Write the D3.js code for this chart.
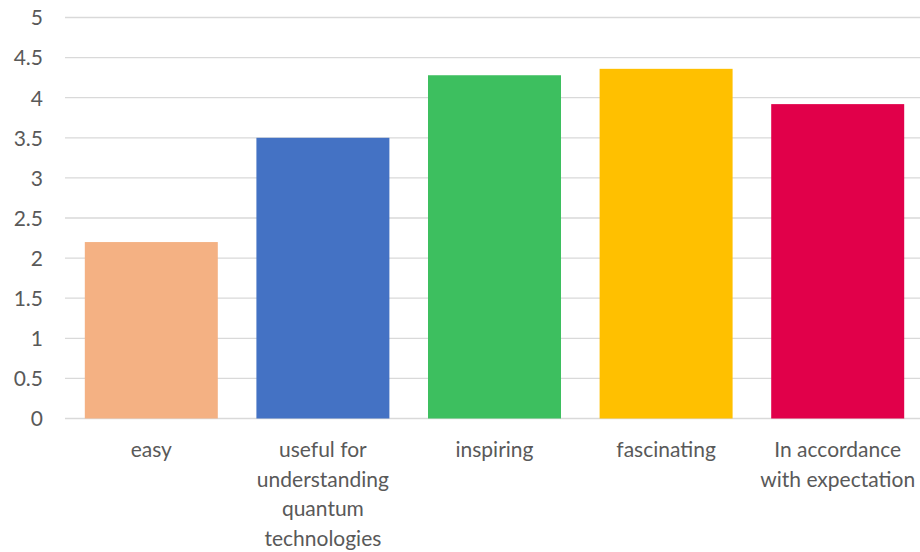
<!DOCTYPE html>
<html><head><meta charset="utf-8">
<script src="https://cdn.jsdelivr.net/npm/d3@7"></script>
<style>
html,body{margin:0;padding:0;background:#fff;}
svg{display:block;}
</style></head>
<body>
<svg id="chart" width="920" height="552"></svg>
<script>
const categories = ["easy", "useful for understanding quantum technologies", "inspiring", "fascinating", "In accordance with expectation"];
const categoryLines = [["easy"], ["useful for", "understanding", "quantum", "technologies"], ["inspiring"], ["fascinating"], ["In accordance", "with expectation"]];
const values = [2.2, 3.5, 4.28, 4.36, 3.92];
const colors = ["#F4B183", "#4472C4", "#3DBF5F", "#FFC000", "#E1004A"];
const yTicks = [0, 0.5, 1, 1.5, 2, 2.5, 3, 3.5, 4, 4.5, 5];
const yTickLabels = ["0", "0.5", "1", "1.5", "2", "2.5", "3", "3.5", "4", "4.5", "5"];

const svg = d3.select("#chart");
const fontFamily = "Lato, 'Open Sans', sans-serif";
const textColor = "#595959";
const fontSize = 21;

const x = d3.scaleBand().domain(categories).range([65.5, 923.5]).paddingInner(0.225).paddingOuter(0.1125);
const y = d3.scaleLinear().domain([0, 5]).range([418.5, 17.5]);

// gridlines
svg.append("g").selectAll("line").data(yTicks).join("line")
  .attr("x1", 65).attr("x2", 920)
  .attr("y1", d => y(d)).attr("y2", d => y(d))
  .attr("stroke", "#d9d9d9").attr("stroke-width", 1.3);

// y axis labels
const yAxis = d3.axisLeft(y).tickValues(yTicks).tickFormat((d, i) => yTickLabels[i]).tickSize(0).tickPadding(0);
const yg = svg.append("g").attr("transform", "translate(43,0)").call(yAxis);
yg.select(".domain").remove();
yg.selectAll("text").attr("fill", textColor).attr("font-family", fontFamily).attr("font-size", fontSize).attr("dy", "0.35em");

// bars
svg.append("g").selectAll("rect").data(values).join("rect")
  .attr("x", (d, i) => x(categories[i]))
  .attr("width", x.bandwidth())
  .attr("y", d => y(d))
  .attr("height", d => y(0) - y(d))
  .attr("fill", (d, i) => colors[i]);

// x labels
const xg = svg.append("g");
categories.forEach((c, i) => {
  const t = xg.append("text")
    .attr("x", x(c) + x.bandwidth() / 2)
    .attr("y", 457)
    .attr("text-anchor", "middle")
    .attr("fill", textColor)
    .attr("font-family", fontFamily)
    .attr("font-size", fontSize);
  categoryLines[i].forEach((ln, j) => {
    t.append("tspan").attr("x", x(c) + x.bandwidth() / 2).attr("dy", j === 0 ? 0 : 29.5).text(ln);
  });
});
</script>
</body></html>
